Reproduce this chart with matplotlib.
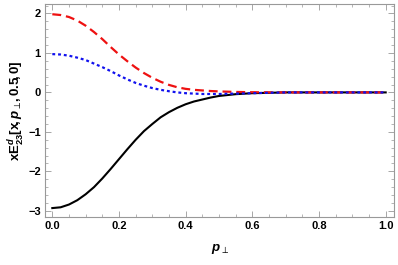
import matplotlib
matplotlib.use('Agg')
import matplotlib.pyplot as plt
from matplotlib.ticker import MultipleLocator

# values
p_perp = [0.0, 0.025, 0.05, 0.075, 0.1, 0.125, 0.15, 0.175, 0.2, 0.225, 0.25, 0.275,
          0.3, 0.325, 0.35, 0.375, 0.4, 0.425, 0.45, 0.475, 0.5, 0.55, 0.6, 0.65, 0.7,
          0.8, 0.9, 1.0]
black_vals = [-2.93, -2.91, -2.84, -2.73, -2.58, -2.4, -2.18, -1.94, -1.69, -1.44, -1.2, -0.98,
              -0.8, -0.63, -0.5, -0.39, -0.3, -0.23, -0.18, -0.13, -0.09, -0.045, -0.02, -0.01, 0.0,
              0.0, 0.0, 0.0]
red_vals = [1.98, 1.96, 1.91, 1.82, 1.69, 1.53, 1.35, 1.15, 0.96, 0.79, 0.63, 0.49,
            0.37, 0.27, 0.19, 0.13, 0.09, 0.065, 0.05, 0.035, 0.025, 0.012, 0.005, 0.002, 0.0,
            0.0, 0.0, 0.0]
blue_vals = [0.97, 0.96, 0.93, 0.88, 0.82, 0.73, 0.64, 0.54, 0.43, 0.33, 0.24, 0.17,
             0.11, 0.065, 0.03, 0.0, -0.02, -0.03, -0.04, -0.04, -0.04, -0.03, -0.02, -0.01, 0.0,
             0.0, 0.0, 0.0]

plt.rcParams['font.family'] = ['Liberation Sans', 'DejaVu Sans']
plt.rcParams['mathtext.fontset'] = 'custom'
plt.rcParams['mathtext.rm'] = 'Liberation Sans:bold'
plt.rcParams['mathtext.it'] = 'Liberation Sans:italic:bold'
plt.rcParams['mathtext.bf'] = 'Liberation Sans:bold'
plt.rcParams['mathtext.fallback'] = 'stixsans'

fig = plt.figure(figsize=(3.98, 2.65), dpi=100)
ax = fig.add_axes([0.113, 0.182, 0.877, 0.803])

ax.plot(p_perp, black_vals, color='black', linewidth=1.5, linestyle='-')
ax.plot(p_perp, red_vals, color='#ee1111', linewidth=1.6, linestyle=(0, (4, 2.2)))
ax.plot(p_perp, blue_vals, color='#1111ee', linewidth=1.6, linestyle=(0, (1.3, 1.3)))

ax.set_xlim(-0.022, 1.025)
ax.set_ylim(-3.15, 2.24)

ax.xaxis.set_major_locator(MultipleLocator(0.2))
ax.xaxis.set_minor_locator(MultipleLocator(0.05))
ax.yaxis.set_major_locator(MultipleLocator(1))
ax.yaxis.set_minor_locator(MultipleLocator(0.2))
ax.xaxis.set_major_formatter(plt.FuncFormatter(lambda v, pos: f'{v:.1f}'))
ax.yaxis.set_major_formatter(plt.FuncFormatter(lambda v, pos: f'{v:.0f}'.replace('-', '\u2212')))

ax.tick_params(which='both', direction='in', top=True, right=True, color='#999999',
               labelsize=8, pad=3)
ax.tick_params(which='major', length=4, width=0.6)
ax.tick_params(which='minor', length=2.2, width=0.5)
for lbl in ax.get_xticklabels() + ax.get_yticklabels():
    lbl.set_fontweight('bold')
for spine in ax.spines.values():
    spine.set_color('#999999')
    spine.set_linewidth(0.8)

ax.set_xlabel(r'$\mathit{p}_{\perp}$', fontsize=9.5, labelpad=8)
ax.set_ylabel(r'$\mathrm{xE}_{23}^{\mathit{d}}[\mathrm{x}\!,\mathit{p}_{\perp}\!,0.5\!,0]$',
              fontsize=9.5, labelpad=1)

plt.savefig('out.png', dpi=100)
